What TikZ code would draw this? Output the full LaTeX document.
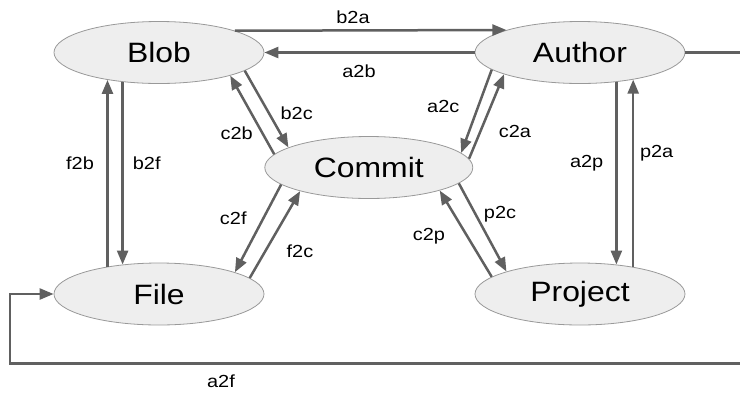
\documentclass[tikz,border=0pt]{standalone}
\usepackage{fontspec}
\setmainfont[FakeStretch=1.14]{Liberation Sans}
\usetikzlibrary{shapes.geometric,arrows.meta}
\definecolor{edgegray}{HTML}{606060}
\definecolor{fillgray}{HTML}{EEEEEE}
\definecolor{rimgray}{HTML}{999999}

\begin{document}
\begin{tikzpicture}[x=1pt,y=-1pt,
  entity/.style={ellipse,draw=rimgray,fill=fillgray,line width=0.8pt,minimum width=210pt,minimum height=62pt,inner sep=0pt,font=\fontsize{28}{30}\selectfont},
  link/.style={draw=edgegray,line width=2.5pt,-{Triangle[length=14pt,width=11pt]}},
  tag/.style={font=\fontsize{17.5}{19}\selectfont,inner sep=0pt}]
\useasboundingbox (0,0) rectangle (740,392);
%entities
\node[entity] (blob) at (159,52.5) {Blob};
\node[entity] (author) at (580,52.5) {Author};
\node[entity,minimum width=208pt] (commit) at (368.8,167.5) {Commit};
\node[entity] (file) at (159,294) {File};
\node[entity] (project) at (580,294) {Project};
%links between entities
\foreach \s/\a/\t/\b in {blob/16.3/author/163.7, author/west/blob/east,
  file/152/blob/208, blob/219/file/141,
  commit/172/blob/342.1, blob/348.2/commit/166.5,
  commit/191.2/file/16.4, file/10.3/commit/199.1,
  author/191.4/commit/9.8, commit/5.1/author/196.8,
  project/169.2/commit/342.7, commit/350/project/163.2,
  author/321/project/39, project/27/author/333}{
\draw[link] (\s.\a) -- (\t.\b);
}
%loop round the outside
\coordinate (loopne) at (746,52.5);
\coordinate (loopse) at (746,363.3);
\coordinate (loopsw) at (10,363.3);
\draw[link] (author.east) -- (loopne) -- (loopse) -- (loopsw) |- (file.west);
%labels
\foreach \t/\x/\y in {b2a/353/17.5, a2b/359/71, f2b/80/163.3, b2f/146.7/163.3,
  c2b/236.7/133.3, b2c/296.7/113.3, c2f/233.3/218.3, f2c/300/251.7,
  a2c/443.3/106.7, c2a/515/131.7, c2p/429/235.7, p2c/500/214,
  a2p/586.7/163.3, p2a/656.7/153.3, a2f/221/381}{
\node[tag] (l\t) at (\x,\y) {\t};
}
\end{tikzpicture}
\end{document}
